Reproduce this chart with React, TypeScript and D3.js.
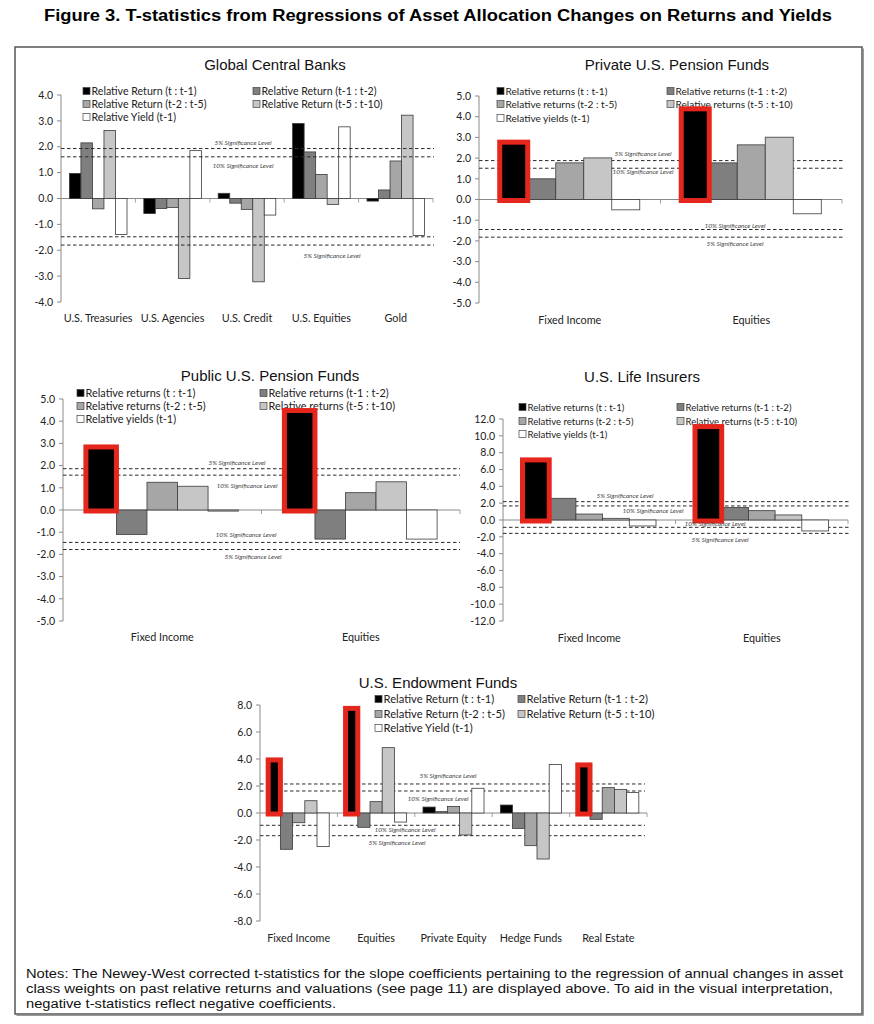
import React from "react";
import * as d3 from "d3";

// ---------- shared ----------
const seriesColors = ["#000000", "#7f7f7f", "#a6a6a6", "#c6c6c6", "#ffffff"];
const returnNamesCap = [
  "Relative Return (t : t-1)",
  "Relative Return (t-1 : t-2)",
  "Relative Return (t-2 : t-5)",
  "Relative Return (t-5 : t-10)",
  "Relative Yield (t-1)",
];
const returnNamesLower = [
  "Relative returns (t : t-1)",
  "Relative returns (t-1 : t-2)",
  "Relative returns (t-2 : t-5)",
  "Relative returns (t-5 : t-10)",
  "Relative yields (t-1)",
];
const sigLabelsStd = ["5% Significance Level", "10% Significance Level", "10% Significance Level", "5% Significance Level"];

// ---------- Global Central Banks ----------
const gcbCategories = ["U.S. Treasuries", "U.S. Agencies", "U.S. Credit", "U.S. Equities", "Gold"];
const gcbT1 = [0.97, -0.58, 0.2, 2.9, -0.1];
const gcbT2 = [2.15, -0.39, -0.18, 1.8, 0.33];
const gcbT5 = [-0.4, -0.35, -0.42, 0.93, 1.45];
const gcbT10 = [2.63, -3.09, -3.22, -0.23, 3.22];
const gcbYield = [-1.39, 1.85, -0.64, 2.77, -1.43];
const gcbSig = [1.93, 1.61, -1.48, -1.8];
const gcbSigLabels = ["5% Significance Level", "10% Significance Level", "", "5% Significance Level"];
const gcbTicks = [-4, -3, -2, -1, 0, 1, 2, 3, 4];
const gcbHighlight: number[] = [];

// ---------- Private U.S. Pension Funds ----------
const privCategories = ["Fixed Income", "Equities"];
const privT1 = [2.77, 4.38];
const privT2 = [1.0, 1.77];
const privT5 = [1.77, 2.64];
const privT10 = [2.01, 3.01];
const privYield = [-0.5, -0.69];
const privSig = [1.88, 1.51, -1.45, -1.82];
const privTicks = [-5, -4, -3, -2, -1, 0, 1, 2, 3, 4, 5];
const privHighlight = [0, 1];

// ---------- Public U.S. Pension Funds ----------
const pubCategories = ["Fixed Income", "Equities"];
const pubT1 = [2.84, 4.48];
const pubT2 = [-1.1, -1.31];
const pubT5 = [1.25, 0.78];
const pubT10 = [1.07, 1.27];
const pubYield = [-0.05, -1.31];
const pubSig = [1.86, 1.57, -1.46, -1.78];
const pubTicks = [-5, -4, -3, -2, -1, 0, 1, 2, 3, 4, 5];
const pubHighlight = [0, 1];

// ---------- U.S. Life Insurers ----------
const lifeCategories = ["Fixed Income", "Equities"];
const lifeT1 = [7.14, 11.1];
const lifeT2 = [2.58, 1.5];
const lifeT5 = [0.71, 1.11];
const lifeT10 = [0.2, 0.6];
const lifeYield = [-0.71, -1.3];
const lifeSig = [2.18, 1.67, -0.87, -1.59];
const lifeTicks = [-12, -10, -8, -6, -4, -2, 0, 2, 4, 6, 8, 10, 12];
const lifeHighlight = [0, 1];

// ---------- U.S. Endowment Funds ----------
const endCategories = ["Fixed Income", "Equities", "Private Equity", "Hedge Funds", "Real Estate"];
const endT1 = [3.93, 7.75, 0.44, 0.59, 3.56];
const endT2 = [-2.69, -1.06, 0.1, -1.14, -0.47];
const endT5 = [-0.72, 0.84, 0.49, -2.42, 1.88];
const endT10 = [0.91, 4.84, -1.63, -3.41, 1.75];
const endYield = [-2.49, -0.67, 1.83, 3.6, 1.51];
const endSig = [2.15, 1.63, -0.91, -1.68];
const endTicks = [-8, -6, -4, -2, 0, 2, 4, 6, 8];
const endHighlight = [0, 1, 4];

const notesLines = [
  "Notes: The Newey-West corrected t-statistics for the slope coefficients pertaining to the regression of annual changes in asset",
  "class weights on past relative returns and valuations (see page 11) are displayed above. To aid in the visual interpretation,",
  "negative t-statistics reflect negative coefficients.",
];

type PanelCfg = {
  title: string;
  categories: string[];
  series: number[][];
  names: string[];
  ticks: number[];
  sig: number[];
  sigLabels: string[];
  highlight: number[];
  left: number;
  right: number;
  top: number;
  bottom: number;
  titleX: number;
  titleY: number;
  catY: number;
  legendX: number[];
  legendY: number[];
  legendFont: number;
  sigEnd: number;
  sigLabelPos: number[][];
  sigOnTop: boolean;
  padOuter: number;
};

const panels: PanelCfg[] = [
  {
    title: "Global Central Banks",
    categories: gcbCategories,
    series: [gcbT1, gcbT2, gcbT5, gcbT10, gcbYield],
    names: returnNamesCap,
    ticks: gcbTicks,
    sig: gcbSig,
    sigLabels: gcbSigLabels,
    highlight: gcbHighlight,
    left: 61, right: 433, top: 95, bottom: 302,
    titleX: 275, titleY: 70, catY: 322,
    legendX: [83, 253], legendY: [91, 104, 117], legendFont: 10.6,
    sigEnd: 434,
    sigLabelPos: [[243, 145], [243, 168], [0, 0], [332, 258]],
    sigOnTop: true, padOuter: 0.73,
  },
  {
    title: "Private U.S. Pension Funds",
    categories: privCategories,
    series: [privT1, privT2, privT5, privT10, privYield],
    names: returnNamesLower,
    ticks: privTicks,
    sig: privSig,
    sigLabels: sigLabelsStd,
    highlight: privHighlight,
    left: 479, right: 842, top: 96, bottom: 303,
    titleX: 677, titleY: 70, catY: 324,
    legendX: [497, 667], legendY: [91, 104, 118], legendFont: 10.1,
    sigEnd: 845,
    sigLabelPos: [[643, 156], [643, 174], [735, 228], [735, 246]],
    sigOnTop: false, padOuter: 0.74,
  },
  {
    title: "Public U.S. Pension Funds",
    categories: pubCategories,
    series: [pubT1, pubT2, pubT5, pubT10, pubYield],
    names: returnNamesLower,
    ticks: pubTicks,
    sig: pubSig,
    sigLabels: sigLabelsStd,
    highlight: pubHighlight,
    left: 63, right: 460, top: 399, bottom: 621,
    titleX: 270, titleY: 381, catY: 641,
    legendX: [77, 260], legendY: [393, 406, 419], legendFont: 10.9,
    sigEnd: 460,
    sigLabelPos: [[237, 465], [247, 488], [246, 537], [253, 559]],
    sigOnTop: false, padOuter: 0.75,
  },
  {
    title: "U.S. Life Insurers",
    categories: lifeCategories,
    series: [lifeT1, lifeT2, lifeT5, lifeT10, lifeYield],
    names: returnNamesLower,
    ticks: lifeTicks,
    sig: lifeSig,
    sigLabels: sigLabelsStd,
    highlight: lifeHighlight,
    left: 503, right: 848, top: 419, bottom: 621,
    titleX: 642, titleY: 382, catY: 642,
    legendX: [519, 677], legendY: [407, 421, 434], legendFont: 9.6,
    sigEnd: 850,
    sigLabelPos: [[625, 498], [653, 513], [715, 526], [720, 542]],
    sigOnTop: false, padOuter: 0.73,
  },
  {
    title: "U.S. Endowment Funds",
    categories: endCategories,
    series: [endT1, endT2, endT5, endT10, endYield],
    names: returnNamesCap,
    ticks: endTicks,
    sig: endSig,
    sigLabels: sigLabelsStd,
    highlight: endHighlight,
    left: 260, right: 647, top: 705, bottom: 921,
    titleX: 438, titleY: 688, catY: 942,
    legendX: [375, 518], legendY: [699, 714, 728], legendFont: 11.2,
    sigEnd: 645,
    sigLabelPos: [[448, 778], [438, 801], [405, 832], [397, 845]],
    sigOnTop: false, padOuter: 0.67,
  },
];

const AXIS = "#8a8a8a";
const SMALL_FONT = "Lato, 'Open Sans', sans-serif";
const TITLE_FONT = "'Liberation Sans', Arial, sans-serif";

function Panel({ cfg }: { cfg: PanelCfg }) {
  const dMin = cfg.ticks[0];
  const dMax = cfg.ticks[cfg.ticks.length - 1];
  const y = d3.scaleLinear().domain([dMin, dMax]).range([cfg.bottom, cfg.top]);
  const x = d3.scaleBand<string>().domain(cfg.categories).range([cfg.left, cfg.right]).padding(0);
  const sx = d3
    .scaleBand<number>()
    .domain(d3.range(cfg.series.length))
    .range([0, x.bandwidth()])
    .paddingInner(0)
    .paddingOuter(cfg.padOuter);
  const y0 = y(0);

  const sigLines = (
    <g>
      {cfg.sig.map((v, i) => (
        <line key={i} x1={cfg.left} x2={cfg.sigEnd} y1={y(v)} y2={y(v)} stroke="#2a2a2a" strokeWidth={1} strokeDasharray="3.5,2.5" />
      ))}
    </g>
  );

  return (
    <g>
      <text x={cfg.titleX} y={cfg.titleY} textAnchor="middle" fontFamily={TITLE_FONT} fontSize={15} fill="#111">
        {cfg.title}
      </text>
      {cfg.names.map((n, i) => {
        const lx = cfg.legendX[i % 2];
        const ly = cfg.legendY[Math.floor(i / 2)];
        return (
          <g key={i}>
            <rect x={lx} y={ly - 3.5} width={7} height={7} fill={seriesColors[i]} stroke="#444" strokeWidth={0.7} />
            <text x={lx + 8.5} y={ly + 3.6} fontFamily={SMALL_FONT} fontSize={cfg.legendFont} fill="#222">
              {n}
            </text>
          </g>
        );
      })}
      <line x1={cfg.left} x2={cfg.left} y1={cfg.top} y2={cfg.bottom} stroke={AXIS} strokeWidth={1} />
      {cfg.ticks.map((t) => (
        <g key={t}>
          <line x1={cfg.left - 4} x2={cfg.left} y1={y(t)} y2={y(t)} stroke={AXIS} strokeWidth={1} />
          <text x={cfg.left - 8} y={y(t) + 3.7} textAnchor="end" fontFamily={SMALL_FONT} fontSize={10.5} fill="#222">
            {t.toFixed(1)}
          </text>
        </g>
      ))}
      {!cfg.sigOnTop && sigLines}
      <line x1={cfg.left} x2={cfg.right} y1={y0} y2={y0} stroke={AXIS} strokeWidth={1} />
      {cfg.categories.slice(1).map((c) => (
        <line key={c} x1={x(c)!} x2={x(c)!} y1={y0} y2={y0 + 4} stroke={AXIS} strokeWidth={0.8} />
      ))}
      <line x1={cfg.right} x2={cfg.right} y1={y0} y2={y0 + 4} stroke={AXIS} strokeWidth={0.8} />
      {cfg.series.map((vals, si) =>
        vals.map((v, ci) => {
          const bx = x(cfg.categories[ci])! + sx(si)!;
          const top = Math.min(y(v), y0);
          const h = Math.abs(y(v) - y0);
          return (
            <rect key={`${si}-${ci}`} x={bx} y={top} width={sx.bandwidth()} height={h} fill={seriesColors[si]} stroke="#3a3a3a" strokeWidth={0.8} />
          );
        })
      )}
      {cfg.highlight.map((ci) => {
        const v = cfg.series[0][ci];
        const bx = x(cfg.categories[ci])! + sx(0)!;
        return (
          <rect key={`hl-${ci}`} x={bx} y={y(v)} width={sx.bandwidth()} height={y0 - y(v) + 1} fill="none" stroke="#e5261c" strokeWidth={5} />
        );
      })}
      {cfg.sigOnTop && sigLines}
      {cfg.sigLabels.map((l, i) =>
        l ? (
          <text key={i} x={cfg.sigLabelPos[i][0]} y={cfg.sigLabelPos[i][1]} textAnchor="middle" fontFamily={SMALL_FONT} fontStyle="italic" fontSize={6.5} fill="#444">
            {l}
          </text>
        ) : null
      )}
      {cfg.categories.map((c) => (
        <text key={c} x={x(c)! + x.bandwidth() / 2} y={cfg.catY} textAnchor="middle" fontFamily={SMALL_FONT} fontSize={10.8} fill="#222">
          {c}
        </text>
      ))}
    </g>
  );
}

export default function App() {
  return (
    <svg width={874} height={1024} style={{ position: "absolute", left: 0, top: 0, background: "#fff" }}>
      <rect x={0} y={0} width={874} height={1024} fill="#fff" />
      <text x={44} y={21} fontFamily={TITLE_FONT} fontWeight="bold" fontSize={16} textLength={788} lengthAdjust="spacingAndGlyphs" fill="#000">
        Figure 3. T-statistics from Regressions of Asset Allocation Changes on Returns and Yields
      </text>
      <rect x={15} y={47} width={847} height={967} fill="none" stroke="#555" strokeWidth={1.5} />
      <polyline points="863.5,48.5 863.5,1015.5 16.5,1015.5" fill="none" stroke="#999" strokeWidth={1} />
      {panels.map((p) => (
        <Panel key={p.title} cfg={p} />
      ))}
      {notesLines.map((l, i) => (
        <text key={i} x={26} y={978 + i * 14.8} fontFamily={TITLE_FONT} fontSize={12.5} textLength={[817, 807, 310][i]} lengthAdjust="spacingAndGlyphs" fill="#111">
          {l}
        </text>
      ))}
    </svg>
  );
}
